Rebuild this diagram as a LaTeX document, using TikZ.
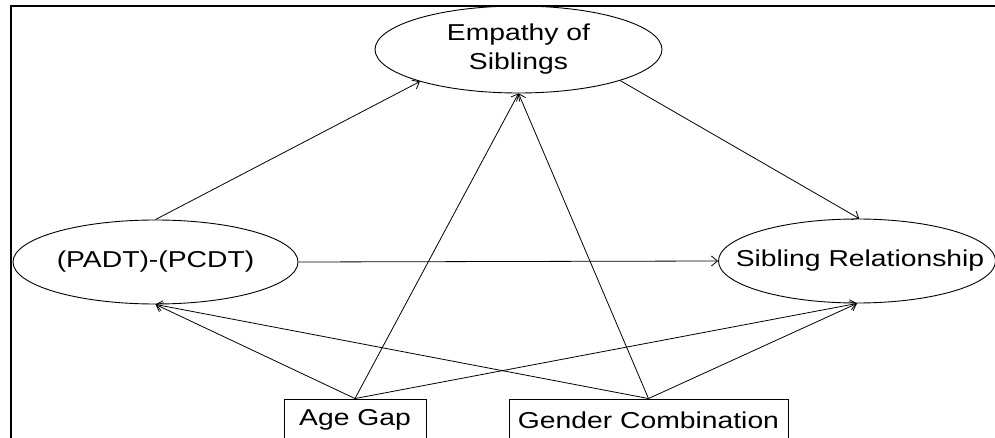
\documentclass[tikz,border=0pt]{standalone}
\usepackage{fontspec}
\setmainfont{Liberation Sans}[FakeStretch=1.23]
\usetikzlibrary{arrows.meta,shapes.geometric}
\begin{document}
\begin{tikzpicture}[x=1pt,y=-1pt,
  lat/.style={draw=black,line width=0.9pt,ellipse,inner sep=0pt},
  lbl/.style={inner sep=0pt,font=\fontsize{23}{29}\selectfont,align=center},
  obs/.style={draw=black,line width=0.9pt,rectangle,inner sep=0pt,
    minimum height=42pt,font=\fontsize{23}{29}\selectfont},
  arr/.style={draw=black,line width=0.8pt,-{Straight Barb[length=6pt,width=10pt]}}]
\useasboundingbox (0,0) rectangle (995,438);
\clip (0,0) rectangle (995,438);
\draw[line width=1.6pt] (11,440) -- (11,6) -- (996,6);
\node[lat,minimum width=287pt,minimum height=87pt,
  label={[lbl]center:Empathy of\\Siblings}] (emp) at (518.5,49.5) {};
\node[lat,minimum width=285pt,minimum height=84pt,
  label={[lbl]center:(PADT)-(PCDT)}] (padt) at (155.5,262) {};
\node[lat,minimum width=277pt,minimum height=84pt,
  label={[lbl,xshift=3pt]center:Sibling Relationship}] (sib) at (857,261) {};
\node[obs,minimum width=142pt] (age) at (355,420) {Age Gap};
\node[obs,minimum width=279pt] (gen) at (648.5,420) {Gender Combination};
\draw[arr] (padt.north) -- (emp.198);
\draw[arr] (padt.east) -- (sib.west);
\draw[arr] (emp.343) -- (sib.87);
\draw[arr] (age.north) -- (emp.south);
\draw[arr] (gen.north) -- (emp.south);
\draw[arr] (age.north) -- (padt.south);
\draw[arr] (gen.north) -- (padt.south);
\draw[arr] (age.north) -- (sib.south);
\draw[arr] (gen.north) -- (sib.south);
\end{tikzpicture}
\end{document}
